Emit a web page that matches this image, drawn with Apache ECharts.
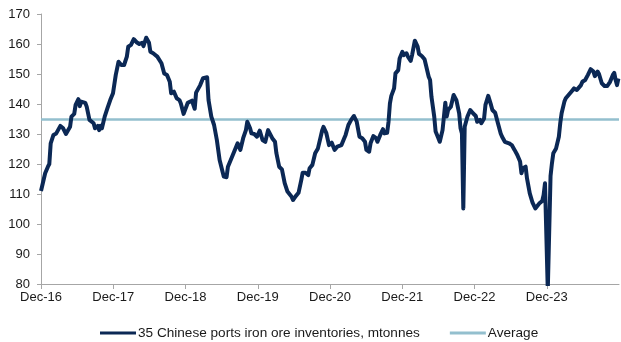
<!DOCTYPE html>
<html>
<head>
<meta charset="utf-8">
<script src="https://cdn.jsdelivr.net/npm/echarts@6/dist/echarts.min.js"></script>
<style>
  html, body { margin: 0; padding: 0; background: #fff; }
  #chart { width: 621px; height: 342px; }
</style>
</head>
<body>
<div id="chart"></div>
<script>
// Weekly observations, counted in weeks from the Dec-16 reading
const weeks = [
  0, 3, 5, 6, 7, 9, 11, 14, 16, 18, 21, 22, 24, 25, 27, 28, 29, 32, 33, 35,
  38, 39, 41, 42, 43, 44, 46, 48, 50, 52, 54, 56, 58, 60, 62, 63, 65, 67, 69, 71,
  73, 74, 76, 78, 79, 81, 84, 85, 87, 89, 91, 93, 94, 96, 98, 100, 101, 103, 104, 106,
  109, 111, 112, 115, 117, 120, 121, 123, 125, 127, 129, 132, 134, 135, 138, 140, 142, 144, 146, 148,
  149, 151, 152, 154, 156, 158, 160, 162, 164, 165, 167, 169, 170, 172, 174, 176, 178, 181, 182, 184,
  186, 188, 189, 191, 193, 194, 196, 198, 200, 202, 203, 204, 206, 208, 210, 211, 212, 214, 217, 219,
  220, 222, 224, 226, 228, 230, 232, 234, 235, 237, 238, 240, 242, 243, 245, 247, 248, 250, 251, 252,
  253, 255, 256, 258, 259, 261, 262, 264, 265, 267, 268, 270, 272, 273, 275, 277, 278, 280, 281, 282,
  284, 285, 287, 288, 290, 291, 292, 293, 294, 296, 298, 300, 302, 303, 304, 305, 306, 308, 310, 312,
  314, 315, 317, 318, 320, 321, 323, 325, 326, 328, 330, 332, 333, 335, 338, 340, 342, 344, 346, 347,
  348, 350, 351, 353, 355, 357, 358, 360, 362, 363, 364, 365, 366, 367, 368, 369, 370, 372, 374, 375,
  376, 378, 379, 381, 383, 385, 387, 388, 390, 391, 393, 395, 397, 399, 400, 402, 403, 405, 407, 409,
  411, 413, 414, 415, 416, 417
];

// 35 Chinese ports iron ore inventories, mtonnes
const inventories = [
  111.0, 116.9, 119.1, 120.0, 126.9, 129.7, 130.2, 132.7, 131.9, 130.0, 132.4, 135.8, 136.7, 139.7, 141.6, 139.3, 140.8, 140.4, 139.1, 134.7,
  133.6, 131.9, 132.7, 131.3, 132.7, 131.9, 135.8, 138.6, 141.3, 143.6, 149.7, 154.1, 153.0, 153.0, 155.8, 159.1, 159.7, 161.6, 160.6, 160.0,
  160.4, 159.3, 162.1, 160.4, 157.4, 156.9, 155.8, 155.2, 153.6, 150.2, 149.7, 147.4, 143.6, 144.1, 141.9, 141.3, 140.2, 136.7, 137.1, 140.4,
  141.1, 138.4, 143.8, 146.3, 148.6, 148.9, 141.3, 135.8, 133.0, 128.0, 121.3, 115.8, 115.6, 119.1, 122.4, 124.7, 126.9, 124.7, 128.6, 131.3,
  134.1, 131.9, 130.2, 130.0, 129.1, 131.1, 128.0, 127.4, 131.3, 131.1, 128.6, 127.4, 123.6, 119.1, 118.2, 113.6, 110.8, 109.1, 108.0, 109.3,
  110.4, 114.7, 117.1, 117.1, 116.3, 118.6, 119.7, 123.6, 125.2, 129.1, 131.1, 132.4, 130.4, 126.3, 127.1, 126.9, 124.7, 125.8, 126.3, 128.6,
  129.7, 133.0, 134.7, 136.0, 134.1, 129.1, 128.6, 127.4, 124.7, 124.1, 126.9, 129.3, 128.6, 127.4, 129.7, 131.6, 130.2, 130.4, 134.1, 140.2,
  142.7, 145.2, 150.2, 151.3, 155.2, 157.4, 156.3, 156.9, 155.8, 154.4, 156.3, 161.1, 159.1, 156.7, 156.0, 154.9, 153.0, 149.1, 148.0, 142.4,
  135.8, 130.8, 128.6, 127.4, 131.3, 135.8, 140.4, 135.8, 138.0, 139.1, 143.0, 141.3, 136.9, 131.9, 130.2, 105.2, 132.4, 135.8, 138.0, 136.9,
  136.0, 134.1, 134.7, 133.6, 135.2, 139.7, 142.7, 139.7, 138.0, 137.1, 133.6, 130.2, 129.1, 127.4, 126.9, 126.3, 124.7, 123.0, 120.8, 116.9,
  118.6, 119.1, 115.2, 110.2, 107.1, 105.2, 104.9, 106.9, 107.7, 109.7, 113.6, 114.1, 78.0, 78.0, 116.0, 120.2, 123.6, 125.2, 129.1, 133.6,
  136.9, 140.8, 141.9, 143.0, 144.1, 145.2, 144.7, 144.9, 146.3, 147.4, 148.0, 149.7, 151.6, 150.8, 149.3, 150.8, 150.0, 146.9, 146.0, 146.0,
  147.4, 149.7, 150.4, 148.0, 146.3, 148.5
];

const averageLevel = 134.8;

const tickLabels = ['Dec-16', 'Dec-17', 'Dec-18', 'Dec-19', 'Dec-20', 'Dec-21', 'Dec-22', 'Dec-23'];
const tickYears = [0, 1, 2, 3, 4, 5, 6, 7];
const yearSpan = 8;
const weeksPerYear = 52.18;

const seriesName = '35 Chinese ports iron ore inventories, mtonnes';
const averageName = 'Average';

const lineData = weeks.map((w, i) => [w / weeksPerYear, inventories[i]]);
const averageData = [[0, averageLevel], [yearSpan, averageLevel]];

const fontFamily = '"Liberation Sans", Arial, sans-serif';
const textColor = '#1a1a1a';
const axisColor = '#a6a6a6';

const chart = echarts.init(document.getElementById('chart'), null, { renderer: 'canvas' });
chart.setOption({
  animation: false,
  backgroundColor: '#ffffff',
  grid: { left: 41, right: 2, top: 14, bottom: 58, containLabel: false },
  xAxis: {
    type: 'value',
    min: 0,
    max: yearSpan,
    interval: 1,
    axisLine: { show: true, lineStyle: { color: axisColor, width: 1 } },
    axisTick: { show: true, customValues: tickYears, length: 5, lineStyle: { color: axisColor } },
    splitLine: { show: false },
    axisLabel: {
      customValues: tickYears,
      margin: 7,
      color: textColor,
      fontSize: 13,
      fontFamily: fontFamily,
      formatter: v => tickLabels[Math.round(v)] || ''
    }
  },
  yAxis: {
    type: 'value',
    min: 80,
    max: 170,
    interval: 10,
    axisLine: { show: true, lineStyle: { color: axisColor, width: 1 } },
    axisTick: { show: true, length: 4, lineStyle: { color: axisColor } },
    splitLine: { show: false },
    axisLabel: { margin: 11, color: textColor, fontSize: 13, fontFamily: fontFamily }
  },
  legend: {
    left: 95,
    top: 321,
    itemWidth: 36,
    itemHeight: 3,
    itemGap: 30,
    icon: 'rect',
    textStyle: { color: textColor, fontSize: 13.6, fontFamily: fontFamily, padding: [0, 0, 0, -3] },
    data: [seriesName, averageName]
  },
  series: [
    {
      name: averageName,
      type: 'line',
      data: averageData,
      showSymbol: false,
      z: 2,
      lineStyle: { color: '#93bfce', width: 2.5 },
      itemStyle: { color: '#93bfce' }
    },
    {
      name: seriesName,
      type: 'line',
      data: lineData,
      showSymbol: false,
      clip: true,
      z: 3,
      lineStyle: { color: '#0b2855', width: 4, join: 'round' },
      itemStyle: { color: '#0b2855' }
    }
  ]
});
</script>
</body>
</html>
